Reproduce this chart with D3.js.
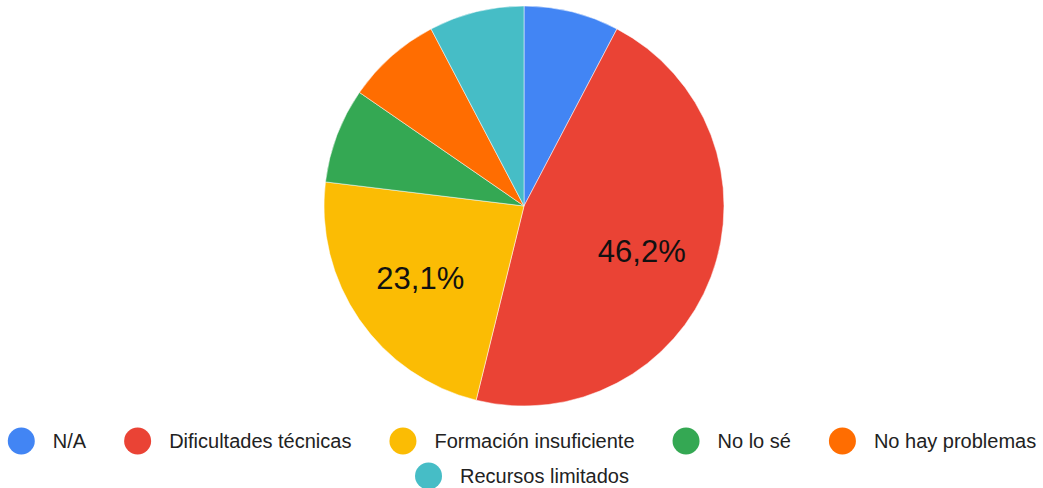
<!DOCTYPE html>
<html lang="es">
<head>
<meta charset="UTF-8">
<title>Pie</title>
<script src="https://d3js.org/d3.v7.min.js"></script>
<style>
  body { margin: 0; background: #fff; }
  text { font-family: Arial, "Liberation Sans", sans-serif; fill: #222; }
</style>
</head>
<body>
<svg width="1043" height="488"></svg>
<script>
// respuestas por categoría
const categories = ['N/A', 'Dificultades técnicas', 'Formación insuficiente', 'No lo sé', 'No hay problemas', 'Recursos limitados'];
const counts = [1, 6, 3, 1, 1, 1];
const colors = ['#4285f4', '#ea4335', '#fbbc04', '#34a853', '#ff6d01', '#46bdc6'];

const width = 1043, height = 488;
const cx = 524, cy = 206, r = 200;
const svg = d3.select('svg');

const data = categories.map((c, i) => ({ name: c, value: counts[i], color: colors[i] }));
const total = d3.sum(counts);

const pie = d3.pie().sort(null).value(d => d.value);
const arc = d3.arc().innerRadius(0).outerRadius(r);
const labelArc = d3.arc().innerRadius(r * 0.63).outerRadius(r * 0.63);

const g = svg.append('g').attr('transform', `translate(${cx},${cy})`);
const arcs = pie(data);

g.selectAll('path')
  .data(arcs)
  .enter().append('path')
  .attr('d', arc)
  .attr('fill', d => d.data.color)
  .attr('stroke', '#fff')
  .attr('stroke-width', 0.5);

// etiquetas solo para porciones grandes
g.selectAll('text.pct')
  .data(arcs.filter(d => d.data.value / total > 0.1))
  .enter().append('text')
  .attr('class', 'pct')
  .attr('transform', d => `translate(${labelArc.centroid(d)})`)
  .attr('text-anchor', 'middle')
  .attr('dy', '0.36em')
  .style('font-size', '31px')
  .style('fill', '#111')
  .text(d => (d.data.value / total * 100).toFixed(1).replace('.', ',') + '%');

// leyenda
const rows = [categories.slice(0, 5), categories.slice(5)];
const rowY = [441, 476];
const dotR = 13.5, textGap = 18, itemGap = 38;
rows.forEach((row, ri) => {
  const lg = svg.append('g');
  let x = 0;
  row.forEach(name => {
    const i = categories.indexOf(name);
    const item = lg.append('g').attr('transform', `translate(${x},0)`);
    item.append('circle').attr('cx', dotR).attr('cy', 0).attr('r', dotR).attr('fill', colors[i]);
    const t = item.append('text')
      .attr('x', dotR * 2 + textGap)
      .attr('dy', '0.35em')
      .style('font-size', '20px')
      .text(name);
    x += dotR * 2 + textGap + t.node().getComputedTextLength() + itemGap;
  });
  const w = x - itemGap;
  lg.attr('transform', `translate(${522 - w / 2},${rowY[ri]})`);
});
</script>
</body>
</html>
